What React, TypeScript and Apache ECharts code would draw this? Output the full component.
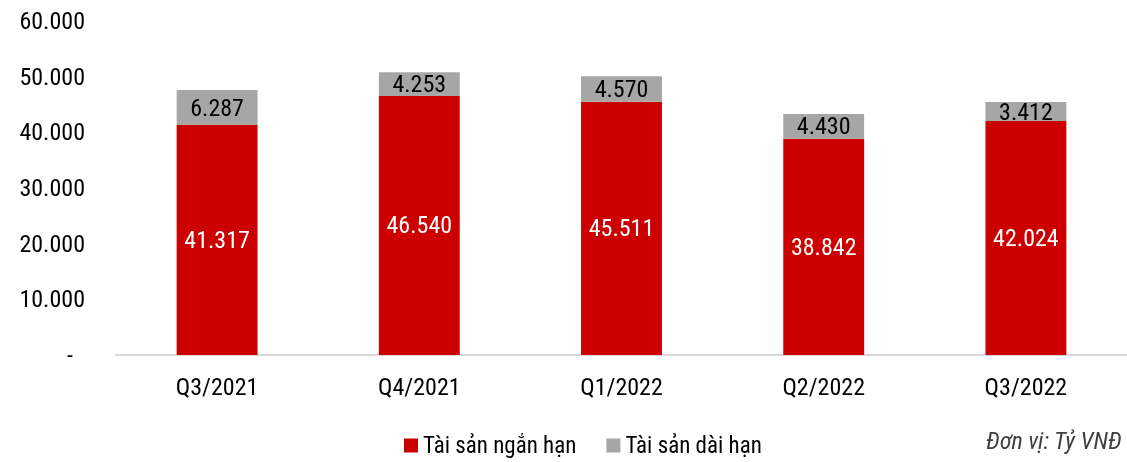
import React, { useEffect, useRef } from "react";
import * as echarts from "echarts";

const categories = ["Q3/2021", "Q4/2021", "Q1/2022", "Q2/2022", "Q3/2022"];
const shortTerm = [41317, 46540, 45511, 38842, 42024];
const longTerm = [6287, 4253, 4570, 4430, 3412];
const seriesNames = ["Tài sản ngắn hạn", "Tài sản dài hạn"];
const unitText = "Đơn vị: Tỷ VNĐ";

const FONT = "'Liberation Sans Narrow', 'Arial Narrow', 'Roboto Condensed', sans-serif";

const fmt = (v: number) => (v === 0 ? "-" : v.toLocaleString("de-DE"));

export default function App() {
  const ref = useRef<HTMLDivElement>(null);
  useEffect(() => {
    if (!ref.current) return;
    const chart = echarts.init(ref.current, undefined, { renderer: "svg" });
    chart.setOption({
      animation: false,
      textStyle: { fontFamily: FONT },
      grid: { left: 116, right: 0, top: 21, bottom: 107 },
      legend: {
        data: seriesNames,
        left: 399,
        top: 429,
        itemWidth: 14,
        itemHeight: 14,
        itemGap: 30,
        icon: "rect",
        textStyle: { fontFamily: FONT, fontSize: 23, color: "#000" },
      },
      graphic: [
        {
          type: "text",
          right: 5,
          top: 429,
          style: {
            text: unitText,
            font: `italic 24px ${FONT}`,
            fill: "#404040",
          },
        },
      ],
      xAxis: {
        type: "category",
        data: categories,
        axisLine: { lineStyle: { color: "#D9D9D9", width: 2 } },
        axisTick: { show: false },
        axisLabel: { fontFamily: FONT, fontSize: 24, color: "#000", margin: 20 },
      },
      yAxis: {
        type: "value",
        min: 0,
        max: 60000,
        interval: 10000,
        splitLine: { show: false },
        axisLine: { show: false },
        axisTick: { show: false },
        axisLabel: {
          fontFamily: FONT,
          fontSize: 24,
          color: "#000",
          margin: 31,
          formatter: (v: number) => (v === 0 ? "{d|-}" : fmt(v)),
          rich: {
            d: { fontFamily: FONT, fontSize: 24, color: "#000", padding: [0, 12, 0, 0] },
          },
        },
      },
      series: [
        {
          name: seriesNames[0],
          type: "bar",
          stack: "total",
          data: shortTerm,
          barWidth: "40%",
          itemStyle: { color: "#CC0000" },
          label: {
            show: true,
            position: "inside",
            color: "#fff",
            fontFamily: FONT,
            fontSize: 24,
            formatter: (p: any) => fmt(p.value),
          },
        },
        {
          name: seriesNames[1],
          type: "bar",
          stack: "total",
          data: longTerm,
          barWidth: "40%",
          itemStyle: { color: "#A6A6A6" },
          label: {
            show: true,
            position: "inside",
            color: "#000",
            fontFamily: FONT,
            fontSize: 24,
            formatter: (p: any) => fmt(p.value),
          },
        },
      ],
    });
    return () => chart.dispose();
  }, []);
  return (
    <div
      ref={ref}
      style={{ position: "fixed", left: 0, top: 0, width: 1127, height: 462 }}
    />
  );
}
